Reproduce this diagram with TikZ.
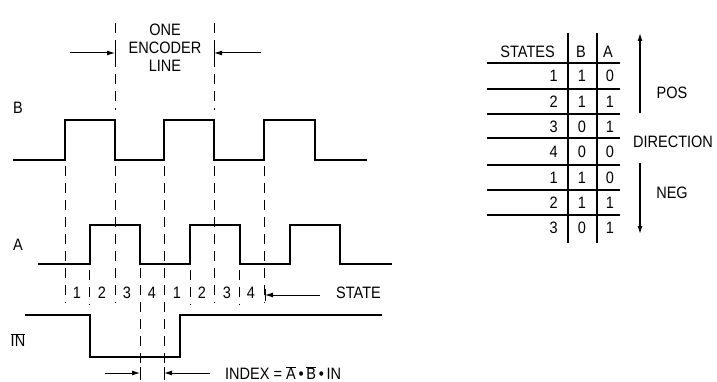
\documentclass[tikz,border=0pt]{standalone}
\usepackage{fontspec}
\setmainfont[FakeStretch=0.88]{Liberation Sans}
\usetikzlibrary{arrows.meta}
\begin{document}
\begin{tikzpicture}[x=1pt,y=-1pt,
  wave/.style={line width=2.8pt,line join=miter,line cap=butt},
  guide/.style={line width=1pt,dash pattern=on 10pt off 7pt},
  rule/.style={line width=1.6pt},
  dim/.style={line width=1pt,-{Latex[length=8pt,width=5pt]}},
  lbl/.style={font=\fontsize{16.5}{17}\selectfont,inner sep=0pt},
  cell/.style={font=\fontsize{16.5}{17}\selectfont,inner sep=0pt}]
\useasboundingbox (0,0) rectangle (717,382);
% labels
\node[lbl] (lB) at (18,108) {B};
\node[lbl] (lA) at (18,245) {A};
\node[lbl] (lIN) at (18,340) {$\overline{\hbox{IN}}$};
% waveforms
\draw[wave] (13,160) -- (65,160) -- (65,120) -- (115,120) -- (115,160) -- (164,160) -- (164,120) -- (214,120) -- (214,160) -- (264,160) -- (264,120) -- (315,120) -- (315,160) -- (367,160);
\draw[wave] (38,264) -- (90,264) -- (90,225) -- (140,225) -- (140,264) -- (190,264) -- (190,225) -- (240,225) -- (240,264) -- (290,264) -- (290,225) -- (340,225) -- (340,264) -- (392,264);
\draw[wave] (25,315) -- (90,315) -- (90,357) -- (180,357) -- (180,315) -- (382,315);
% guide lines
\foreach \x in {65,115,214,264} \draw[guide] (\x,166) -- (\x,303);
\draw[guide] (164,166) -- (164,380);
\draw[guide] (140,268) -- (140,380);
\foreach \x in {89,190,239} \draw[guide] (\x,270) -- (\x,305);
\foreach \x in {115,214} \draw[guide] (\x,23) -- (\x,110);
% one encoder line
\node[lbl,align=center] (enc) at (165,48) {ONE\\[1pt]ENCODER\\[1pt]LINE};
\coordinate (e1) at (70,53);
\coordinate (e2) at (115,53);
\coordinate (e3) at (261,53);
\coordinate (e4) at (214,53);
\draw[dim] (e1) -- (e2);
\draw[dim] (e3) -- (e4);
\draw[line width=1pt] (115,47) -- (115,59) (214,47) -- (214,59);
% states
\foreach \t/\x in {1/77,2/102,3/127,4/152,1/177,2/202,3/227,4/251}
  \node[lbl] at (\x,293) {\t};
\node[lbl,anchor=west] (st) at (336,293) {STATE};
\coordinate (s1) at (320,295);
\coordinate (s2) at (265,295);
\draw[dim] (s1) -- (s2);
\draw[line width=1pt] (265,289) -- (265,301);
% index
\coordinate (i1) at (105,373);
\coordinate (i2) at (140,373);
\coordinate (i3) at (210,373);
\coordinate (i4) at (164,373);
\draw[dim] (i1) -- (i2);
\draw[dim] (i3) -- (i4);
\draw[line width=1pt] (140,367) -- (140,379) (164,367) -- (164,379);
\node[lbl,anchor=west] (idx) at (225,373) {INDEX = $\overline{\hbox{A}}$\,•\,$\overline{\hbox{B}}$\,•\,IN};
% table
\draw[rule] (568,33) -- (568,243) (597,33) -- (597,243);
\foreach \y in {63,89,114,138,165,190,215} \draw[rule] (487,\y) -- (620,\y);
\node[cell,anchor=east] (hs) at (555,52) {STATES};
\node[cell] (hb) at (581,52) {B};
\node[cell] (ha) at (608,52) {A};
\foreach \s/\b/\a/\y in {1/1/0/76,2/1/1/102,3/0/1/127,4/0/0/152,1/1/0/178,2/1/1/203,3/0/1/228} {
  \node[cell,anchor=east] at (558,\y) {\s};
  \node[cell] at (582,\y) {\b};
  \node[cell] at (610,\y) {\a};
}
\node[lbl] (pos) at (672,93) {POS};
\node[lbl] (dir) at (673,142) {DIRECTION};
\node[lbl] (neg) at (672,193) {NEG};
\coordinate (u1) at (640,113);
\coordinate (u2) at (640,33);
\coordinate (d1) at (640,163);
\coordinate (d2) at (640,234);
\draw[dim,line width=1.3pt] (u1) -- (u2);
\draw[dim,line width=1.3pt] (d1) -- (d2);
\end{tikzpicture}
\end{document}
